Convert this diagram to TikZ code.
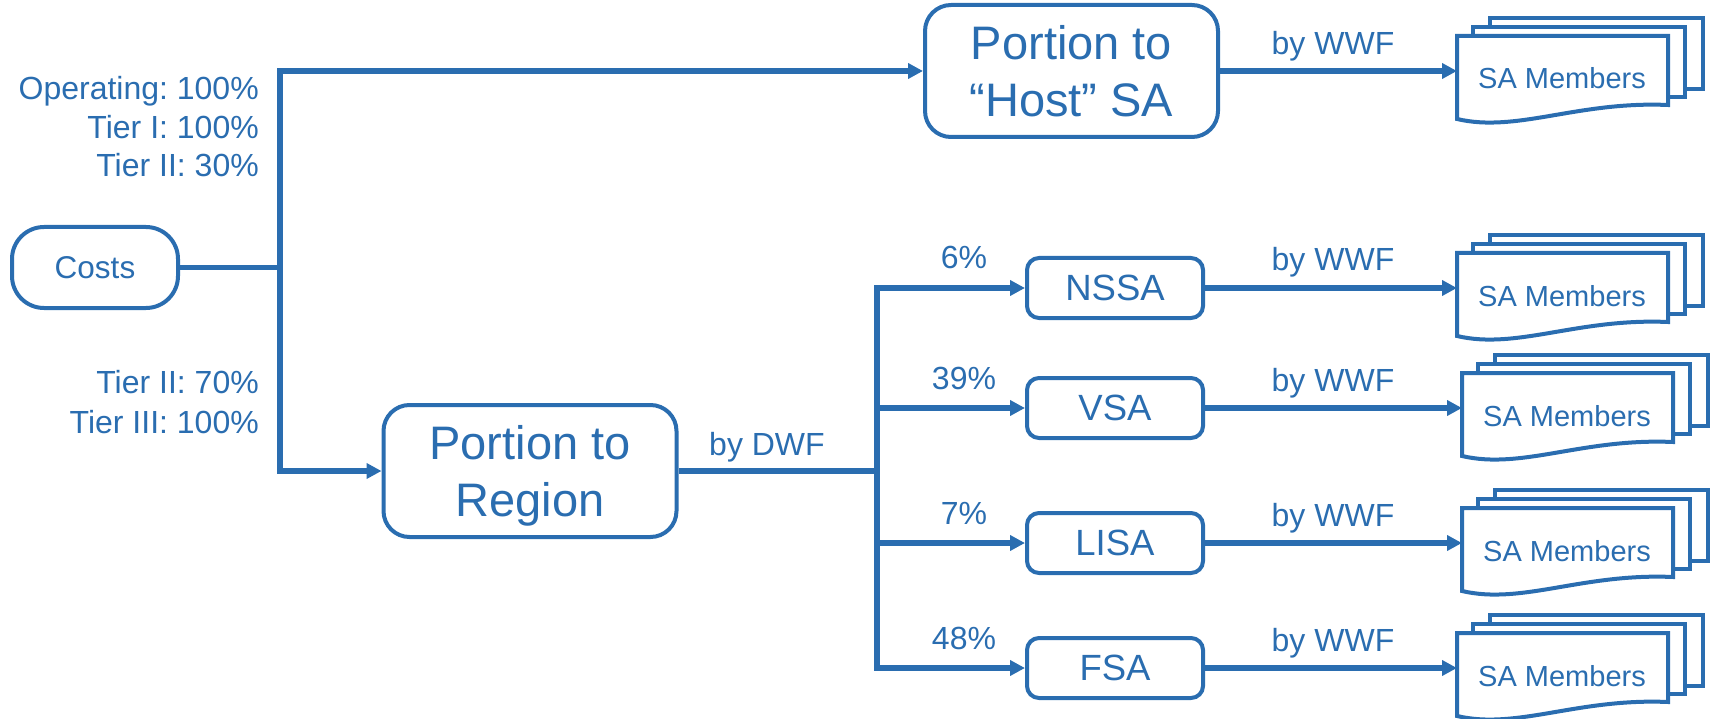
\documentclass[tikz,border=0pt]{standalone}
\usepackage{fontspec}
\setmainfont{Liberation Sans}
\usetikzlibrary{arrows.meta}
\definecolor{wblue}{HTML}{2A6DB0}
\frenchspacing
\newcommand\samembers[3]{%
  \begin{scope}[shift={(#2,#3)}]
    \draw[sheet] (33,-53) rectangle (246,18);
    \draw[sheet] (16,-44) rectangle (228,26);
    \draw[sheet] (0,-35) -- (211,-35) -- (211,34)
      .. controls (120,30) and (60,62) .. (0,48) -- cycle;
    \node[inner sep=0pt, outer sep=0pt, minimum width=211pt, minimum height=69pt] (#1) at (105.5,0) {};
    \node[memtext] (#1t) at (105,18) {SA Members};
  \end{scope}}
\begin{document}
\begin{tikzpicture}[x=1pt,y=-1pt,
  conn/.style={draw=wblue, line width=5.5pt},
  arr/.style={conn, -{Triangle[length=15pt,width=15pt]}},
  box/.style={draw=wblue, line width=4pt, fill=white, text=wblue, inner sep=0pt, text depth=0pt},
  bigbox/.style={box, rounded corners=26pt, minimum width=293pt, minimum height=132pt,
    font=\fontsize{47}{57}\selectfont, align=center},
  smallbox/.style={box, rounded corners=12pt, minimum width=176pt, minimum height=60pt,
    font=\fontsize{36.5}{42}\selectfont},
  costbox/.style={box, rounded corners=32pt, minimum width=166pt, minimum height=81pt,
    font=\fontsize{31.5}{38}\selectfont},
  lbl/.style={text=wblue, font=\fontsize{32}{38}\selectfont\frenchspacing, inner sep=0pt, anchor=base},
  lftlbl/.style={lbl, anchor=base east},
  sheet/.style={draw=wblue, line width=4pt, fill=white, line join=miter},
  memtext/.style={text=wblue, font=\fontsize{29}{34}\selectfont, inner sep=0pt, anchor=base}]
\useasboundingbox (0,0) rectangle (1715,719);

% nodes
\node[costbox] (costs) at (95,267.5) {Costs};
\node[bigbox] (host) at (1071.5,71) {Portion to\\“Host” SA};
\node[bigbox] (region) at (530,471) {Portion to\\Region};
\node[smallbox] (nssa) at (1115,288) {NSSA};
\node[smallbox] (vsa) at (1115,408) {VSA};
\node[smallbox] (lisa) at (1115,543) {LISA};
\node[smallbox] (fsa) at (1115,668) {FSA};

\samembers{m0}{1457}{71}
\samembers{m1}{1457}{288}
\samembers{m2}{1462}{408}
\samembers{m3}{1462}{543}
\samembers{m4}{1457}{668}

\coordinate (jn) at (280,267.5);
\coordinate (sp) at (877,471);

% connectors
\draw[conn] (costs.east) -- (jn);
\draw[arr] (jn) |- (host.west);
\draw[arr] (jn) |- (region.west);
\draw[conn] (region.east) -- (sp);
\draw[arr] (sp) |- (nssa.west);
\draw[arr] (sp) |- (vsa.west);
\draw[arr] (sp) |- (lisa.west);
\draw[arr] (sp) |- (fsa.west);
\draw[arr] (host.east) -- (m0.west);
\draw[arr] (nssa.east) -- (m1.west);
\draw[arr] (vsa.east) -- (m2.west);
\draw[arr] (lisa.east) -- (m3.west);
\draw[arr] (fsa.east) -- (m4.west);

% labels
\node[lftlbl] (l1) at (259,100) {Operating: 100\%};
\node[lftlbl] (l2) at (259,139) {Tier I: 100\%};
\node[lftlbl] (l3) at (259,177) {Tier II: 30\%};
\node[lftlbl] (l4) at (259,393) {Tier II: 70\%};
\node[lftlbl] (l5) at (259,433) {Tier III: 100\%};

\node[lbl] (dwf) at (767,455) {by DWF};
\node[lbl] (w0) at (1333,55) {by WWF};
\node[lbl] (w1) at (1333,271) {by WWF};
\node[lbl] (w2) at (1333,391) {by WWF};
\node[lbl] (w3) at (1333,526) {by WWF};
\node[lbl] (w4) at (1333,651) {by WWF};

\node[lbl] (p1) at (964,269) {6\%};
\node[lbl] (p2) at (964,389) {39\%};
\node[lbl] (p3) at (964,524) {7\%};
\node[lbl] (p4) at (964,649) {48\%};
\end{tikzpicture}
\end{document}
